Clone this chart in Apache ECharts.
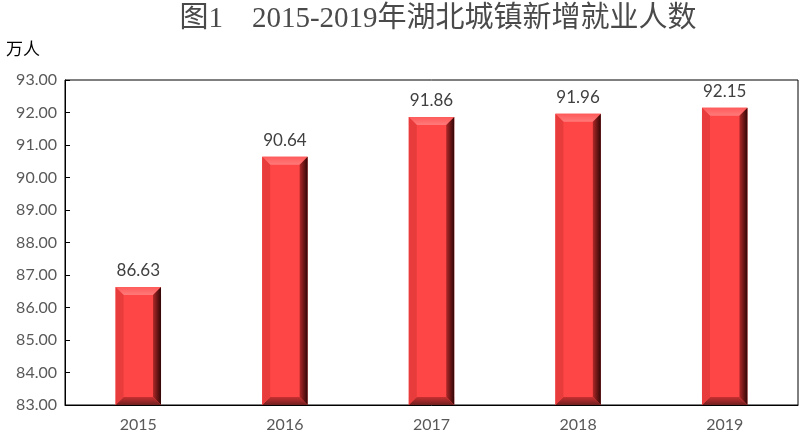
<!DOCTYPE html>
<html><head><meta charset="utf-8">
<script src="https://cdn.jsdelivr.net/npm/echarts@6/dist/echarts.min.js"></script>
<style>html,body{margin:0;padding:0;background:#fff}#c{width:805px;height:438px}</style>
</head><body><div id="c"></div>
<script>
const categories = ['2015','2016','2017','2018','2019'];
const values = [86.63, 90.64, 91.86, 91.96, 92.15];
const yMin = 83, yMax = 93, yStep = 1;

const chart = echarts.init(document.getElementById('c'), null, {renderer:'canvas'});
function renderBar(params, api){
  const idx = api.value(0);
  const v = api.value(1);
  const top = api.coord([idx, v]);
  const base = api.coord([idx, yMin]);
  const w = api.size([1,0])[0]*0.31;
  const x0 = top[0]-w/2, x1 = top[0]+w/2, y0 = top[1], y1 = base[1];
  const b = 8;
  const face = '#ff4646';
  return {type:'group', children:[
    {type:'rect', shape:{x:x0,y:y0,width:w,height:y1-y0}, style:{fill:face}},
    {type:'polygon', shape:{points:[[x0,y0],[x1,y0],[x1-b,y0+b],[x0+b,y0+b]]},
      style:{fill:new echarts.graphic.LinearGradient(0,0,0,1,[{offset:0,color:'#ff5a5a'},{offset:1,color:'#ff7a7a'}])}},
    {type:'polygon', shape:{points:[[x1,y0],[x1,y1],[x1-b,y1-b],[x1-b,y0+b]]},
      style:{fill:new echarts.graphic.LinearGradient(0,0,1,0,[{offset:0,color:'#b02828'},{offset:1,color:'#300606'}])}},
    {type:'polygon', shape:{points:[[x0,y1],[x1,y1],[x1-b,y1-b],[x0+b,y1-b]]},
      style:{fill:new echarts.graphic.LinearGradient(0,0,0,1,[{offset:0,color:'#c83030'},{offset:1,color:'#702020'}])}},
    {type:'polygon', shape:{points:[[x0,y0],[x0+b,y0+b],[x0+b,y1-b],[x0,y1]]},
      style:{fill:'#e83c3c'}},
    {type:'text', style:{text:v.toFixed(2), x:top[0], y:y0-8, align:'center', verticalAlign:'bottom',
      fill:'#404040', font:'17px Lato, "Noto Sans", sans-serif'}}
  ]};
}
chart.setOption({
  animation:false,
  title:{text:'图1　2015-2019年湖北城镇新增就业人数', left:433, top:0, textAlign:'center',
    textStyle:{fontFamily:'"Liberation Serif", "Noto Sans CJK SC"', fontSize:29, fontWeight:'normal', color:'#4a4a4a'}},
  graphic:[{type:'text', left:6, top:40, style:{text:'万人', fill:'#000', font:'17px "Noto Sans CJK SC"'}}],
  grid:{left:65, right:7, top:80, bottom:33, show:true, borderColor:'#000', borderWidth:1},
  xAxis:{type:'category', data:categories, axisLine:{lineStyle:{color:'#000'}}, axisTick:{show:false},
    axisLabel:{color:'#595959', fontSize:16, fontFamily:'Lato, "Noto Sans", sans-serif', margin:12}},
  yAxis:{type:'value', min:yMin, max:yMax, interval:yStep, splitLine:{show:false},
    axisLine:{show:true, lineStyle:{color:'#000'}}, axisTick:{show:true, inside:true, length:5, lineStyle:{color:'#000'}},
    axisLabel:{color:'#595959', fontSize:16, fontFamily:'Lato, "Noto Sans", sans-serif', margin:8,
      formatter:v=>v.toFixed(2)}},
  series:[{type:'custom', renderItem:renderBar, data:categories.map((c,i)=>[i, values[i]]), encode:{x:0,y:1}}]
});
</script></body></html>
